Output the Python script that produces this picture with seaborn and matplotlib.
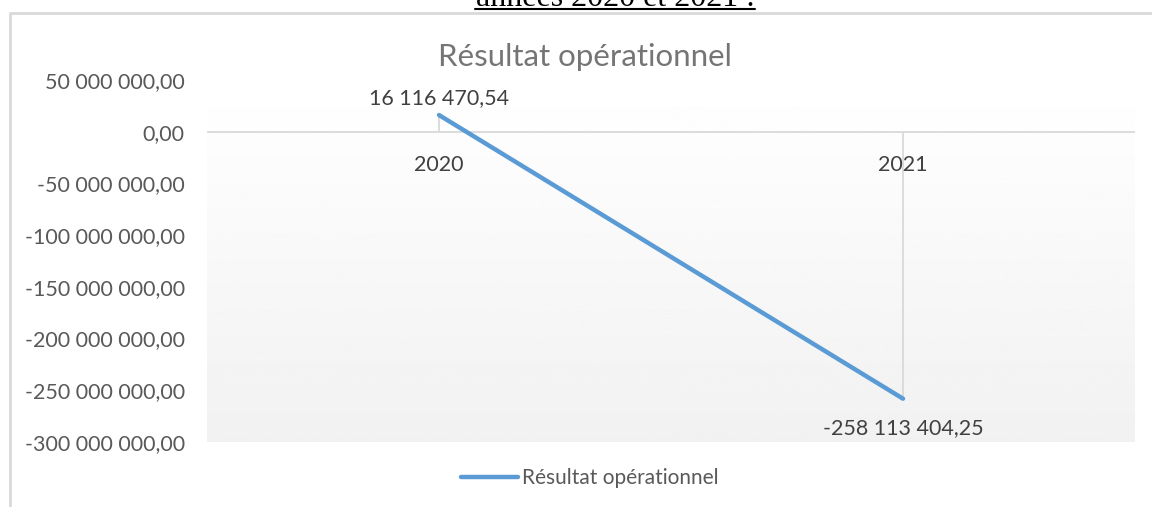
import numpy as np
import pandas as pd
import seaborn as sns
import matplotlib.pyplot as plt
from matplotlib.lines import Line2D

# Données
annees = ['2020', '2021']
resultat = [16116470.54, -258113404.25]
yticks = [50e6, 0, -50e6, -100e6, -150e6, -200e6, -250e6, -300e6]
serie = 'Résultat opérationnel'

df = pd.DataFrame({'Année': annees, serie: resultat})


def fmt(v):
    # format français : espace pour les milliers, virgule décimale
    s = f'{v:,.2f}'
    return s.replace(',', ' ').replace('.', ',')


sns.set_style('white')
plt.rcParams['font.family'] = ['Lato', 'DejaVu Sans']

W, H = 1152, 507
fig = plt.figure(figsize=(W / 100, H / 100), dpi=100)
ax = fig.add_axes([207 / W, 1 - 442 / H, (1135 - 207) / W, (442 - 80) / H])

# fond dégradé de la zone de traçage
grad = np.linspace(1.0, 0.945, 256).reshape(-1, 1)
ax.imshow(grad, cmap='gray', vmin=0, vmax=1, aspect='auto',
          extent=[0, 1, 0, 1], transform=ax.transAxes, zorder=0)

sns.lineplot(data=df, x='Année', y=serie, ax=ax, color='#5B9BD5',
             linewidth=3.2, label=serie, zorder=3, legend=False)

ax.set_xlim(-0.5, 1.5)
ax.set_ylim(-300e6, 50e6)
ax.set_yticks(yticks)
ax.set_yticklabels([fmt(v) for v in yticks])
ax.tick_params(axis='y', length=0, pad=16, labelsize=15.5, labelcolor='#595959')
ax.set_xticks([])
ax.set_xlabel('')
ax.set_ylabel('')
for sp in ax.spines.values():
    sp.set_visible(False)

# axe des catégories à zéro + lignes de projection
ax.axhline(0, color='#d9d9d9', lw=1.3, zorder=1)
ax.vlines(range(len(annees)), 0, resultat, color='#d9d9d9', lw=1.3, zorder=1)

for i, a in enumerate(annees):
    ax.annotate(a, (i, 0), xytext=(0, -33), textcoords='offset pixels',
                ha='center', va='center', fontsize=15.5, color='#404040')

# étiquettes de données
for i, v in enumerate(resultat):
    dy = 17 if v >= 0 else -29
    ax.annotate(fmt(v), (i, v), xytext=(0, dy), textcoords='offset pixels',
                ha='center', va='center', fontsize=15.5, color='#404040')

fig.text(585 / W, 1 - 57 / H, serie, ha='center', va='center',
         fontsize=22.5, color='#757575')

# légende
handle = Line2D([], [], color='#5B9BD5', lw=3.2)
fig.legend([handle], [serie], loc='center', bbox_to_anchor=(590 / W, 1 - 478 / H),
           frameon=False, fontsize=15, labelcolor='#595959',
           handlelength=2.7, handletextpad=0.2)

# cadre du graphique et texte du document coupé en haut
fig.add_artist(Line2D([10 / W, 10 / W, 1], [0, 1 - 13 / H, 1 - 13 / H],
                      transform=fig.transFigure, color='#d9d9d9', lw=2))
fig.text(615 / W, 1 - 6 / H, 'années 2020 et 2021 :', ha='center', va='baseline',
         family='Liberation Serif', fontsize=23, color='black')
fig.add_artist(Line2D([475 / W, 755 / W], [1 - 9 / H, 1 - 9 / H],
                      transform=fig.transFigure, color='black', lw=1.5))

fig.savefig('out.png', dpi=100)
